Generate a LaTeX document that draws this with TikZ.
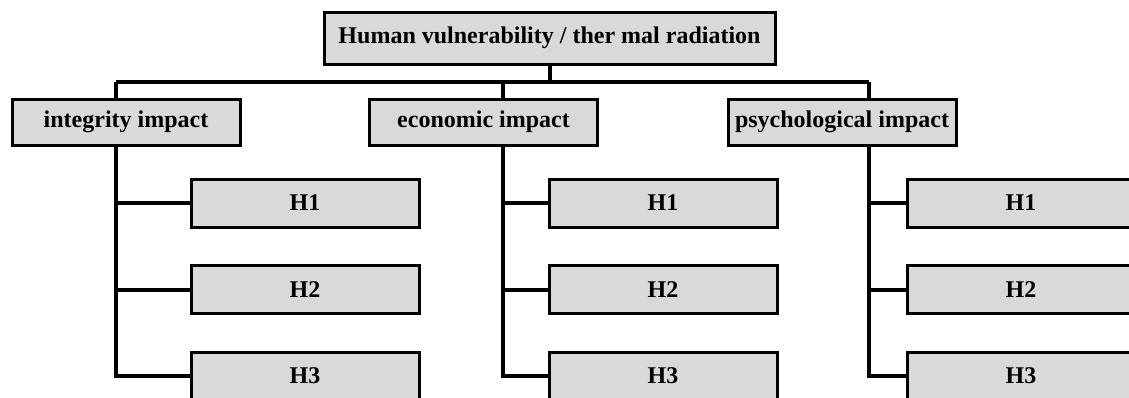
\documentclass[tikz,border=0pt]{standalone}
\usepackage{fontspec}
\setmainfont{Liberation Serif}
\usetikzlibrary{positioning}
\definecolor{boxgray}{RGB}{217,217,217}
\tikzset{
  topbox/.style={draw, fill=boxgray, line width=1.5pt, inner sep=0pt,
    minimum width=225.5pt, minimum height=26pt,
    font=\fontsize{12}{14}\selectfont\bfseries},
  impact/.style={topbox, minimum width=114pt, minimum height=23pt},
  hbox/.style={topbox, minimum width=114pt, minimum height=24pt},
  branch/.style={line width=2pt}
}

\begin{document}
\begin{tikzpicture}[x=0.5pt, y=-0.5pt, node distance=43.25pt]
    \useasboundingbox (0,0) rectangle (1129,397);
    \clip (0,0) rectangle (1129,397);

    \node[topbox] (top) at (549.5,38) {Human vulnerability / ther mal radiation};
    \node[impact] (int) at (126,122) {integrity impact};
    \node[impact] (eco) at (483.5,122) {economic impact};
    \node[impact] (psy) at (842,122) {psychological impact};

    \node[hbox] (int1) at (305,203) {H1};
    \node[hbox, below of=int1] (int2) {H2};
    \node[hbox, below of=int2] (int3) {H3};
    \node[hbox] (eco1) at (663,203) {H1};
    \node[hbox, below of=eco1] (eco2) {H2};
    \node[hbox, below of=eco2] (eco3) {H3};
    \node[hbox] (psy1) at (1021,203) {H1};
    \node[hbox, below of=psy1] (psy2) {H2};
    \node[hbox, below of=psy2] (psy3) {H3};

    \coordinate (intbus) at (116,82);
    \coordinate (ecobus) at (503,82);
    \coordinate (psybus) at (869,82);

    \draw[branch]
        (top.south) -- (top.south |- intbus)
        (intbus) -- (psybus)
        (intbus) -- (intbus |- int.north)
        (ecobus) -- (ecobus |- eco.north)
        (psybus) -- (psybus |- psy.north)
        ;
    \draw[branch]
        (intbus |- int.south) |- (int3.west)
        (intbus |- int1.west) -- (int1.west)
        (intbus |- int2.west) -- (int2.west)
        (ecobus |- eco.south) |- (eco3.west)
        (ecobus |- eco1.west) -- (eco1.west)
        (ecobus |- eco2.west) -- (eco2.west)
        (psybus |- psy.south) |- (psy3.west)
        (psybus |- psy1.west) -- (psy1.west)
        (psybus |- psy2.west) -- (psy2.west)
        ;
\end{tikzpicture}
\end{document}
